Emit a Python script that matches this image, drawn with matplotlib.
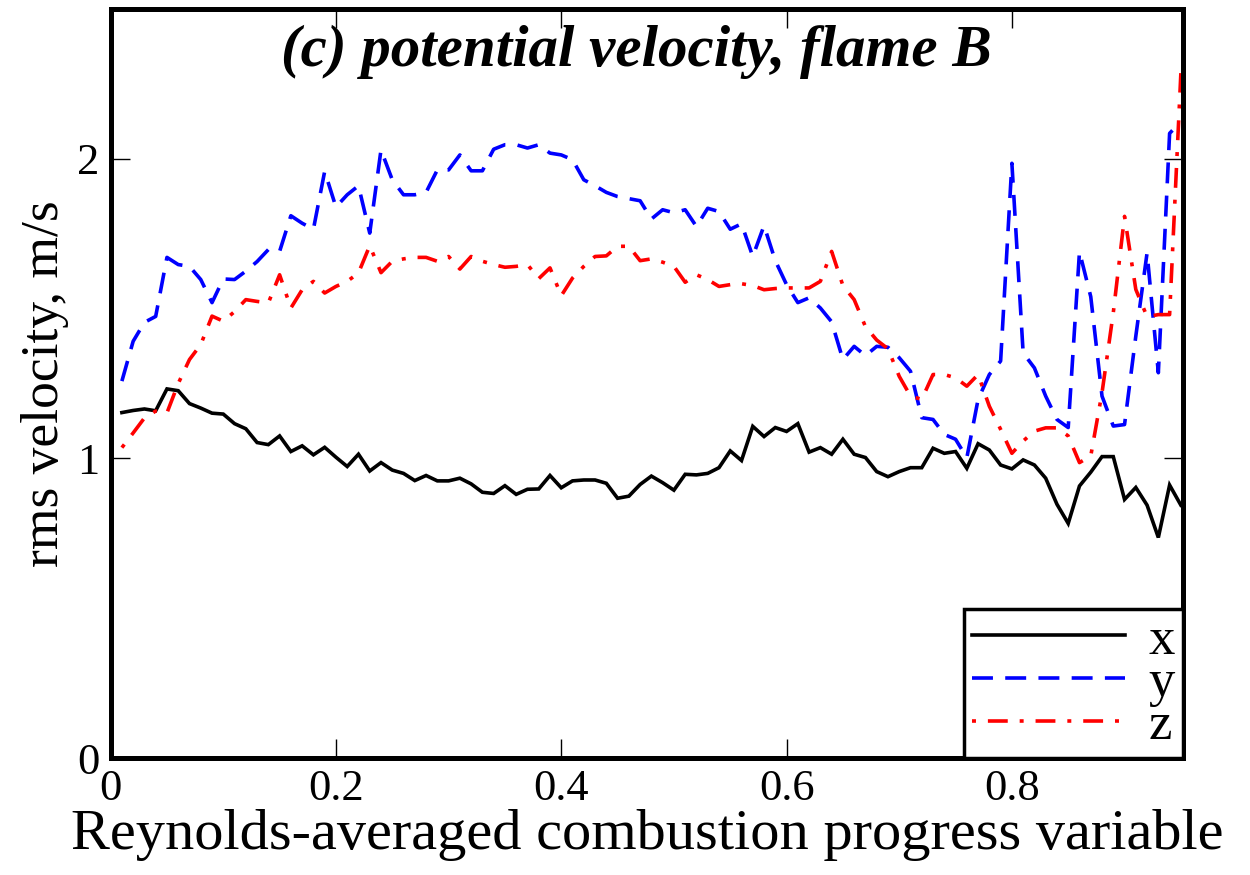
import numpy as np
import matplotlib
matplotlib.use("Agg")
import matplotlib.pyplot as plt

# progress variable grid (0.01 .. 0.95)
c_bins = [round(0.01 * k, 2) for k in range(1, 96)]

rms_x = [1.153, 1.160, 1.165, 1.159, 1.232, 1.226, 1.183, 1.168, 1.151, 1.148,
         1.116, 1.099, 1.053, 1.046, 1.075, 1.023, 1.042, 1.012, 1.037, 1.004,
         0.973, 1.014, 0.958, 0.986, 0.961, 0.950, 0.926, 0.943, 0.925, 0.925,
         0.934, 0.915, 0.887, 0.883, 0.909, 0.880, 0.897, 0.898, 0.943, 0.902,
         0.925, 0.928, 0.928, 0.917, 0.867, 0.874, 0.913, 0.941, 0.919, 0.894,
         0.947, 0.945, 0.950, 0.969, 1.025, 0.993, 1.107, 1.073, 1.103, 1.090,
         1.116, 1.021, 1.036, 1.014, 1.064, 1.014, 1.003, 0.956, 0.939, 0.956,
         0.969, 0.969, 1.034, 1.017, 1.023, 0.967, 1.049, 1.028, 0.978, 0.965,
         0.995, 0.978, 0.934, 0.847, 0.783, 0.908, 0.954, 1.006, 1.006, 0.863,
         0.903, 0.844, 0.736, 0.911, 0.844]

rms_y = [1.258, 1.391, 1.454, 1.474, 1.671, 1.647, 1.641, 1.597, 1.520, 1.599,
         1.597, 1.625, 1.657, 1.697, 1.691, 1.810, 1.785, 1.765, 1.958, 1.839,
         1.880, 1.910, 1.752, 2.030, 1.930, 1.880, 1.880, 1.888, 1.963, 1.963,
         2.013, 1.960, 1.960, 2.032, 2.047, 2.047, 2.036, 2.047, 2.019, 2.013,
         1.997, 1.930, 1.910, 1.888, 1.874, 1.867, 1.860, 1.799, 1.830, 1.820,
         1.830, 1.774, 1.835, 1.824, 1.765, 1.783, 1.674, 1.777, 1.660, 1.580,
         1.520, 1.536, 1.502, 1.456, 1.330, 1.374, 1.343, 1.374, 1.371, 1.336,
         1.291, 1.136, 1.130, 1.080, 1.064, 1.002, 1.197, 1.280, 1.325, 1.985,
         1.352, 1.302, 1.208, 1.130, 1.103, 1.690, 1.540, 1.208, 1.108, 1.113,
         1.408, 1.686, 1.286, 2.085, 2.124]

rms_z = [1.036, 1.085, 1.135, 1.158, 1.152, 1.250, 1.330, 1.380, 1.475, 1.458,
         1.490, 1.530, 1.524, 1.519, 1.613, 1.502, 1.563, 1.591, 1.552, 1.574,
         1.591, 1.619, 1.710, 1.620, 1.658, 1.666, 1.671, 1.671, 1.658, 1.674,
         1.632, 1.674, 1.658, 1.647, 1.638, 1.641, 1.647, 1.600, 1.636, 1.543,
         1.602, 1.641, 1.674, 1.676, 1.708, 1.708, 1.660, 1.666, 1.655, 1.641,
         1.588, 1.613, 1.597, 1.574, 1.580, 1.583, 1.577, 1.563, 1.567, 1.569,
         1.569, 1.569, 1.591, 1.691, 1.577, 1.530, 1.440, 1.395, 1.366, 1.274,
         1.208, 1.197, 1.280, 1.280, 1.269, 1.241, 1.280, 1.174, 1.097, 1.017,
         1.058, 1.091, 1.102, 1.102, 1.075, 0.986, 1.008, 1.219, 1.486, 1.808,
         1.564, 1.473, 1.480, 1.480, 2.286]

series_labels = ["x", "y", "z"]
x_ticks = [0, 0.2, 0.4, 0.6, 0.8]
x_ticklabels = ["0", "0.2", "0.4", "0.6", "0.8"]
y_ticks = [0, 1, 2]
y_ticklabels = ["0", "1", "2"]

plt.rcParams['font.family'] = ['Liberation Serif', 'DejaVu Serif']

fig = plt.figure(figsize=(12.5, 8.75), dpi=100)
ax = fig.add_axes([0.0885, 0.1337, 0.858, 0.856])

lw = 2.6
ax.plot(c_bins, rms_x, color='black', lw=2.6, solid_joinstyle='miter', label=series_labels[0])
ax.plot(c_bins, rms_y, color='#0000ff', lw=lw, linestyle=(0, (5.8, 3.4)), label=series_labels[1])
ax.plot(c_bins, rms_z, color='#ff0000', lw=lw, linestyle=(0, (1.1, 3.3, 5.5, 3.3)), label=series_labels[2])

ax.set_xlim(0, 0.952)
ax.set_ylim(0, 2.5)
ax.set_xticks(x_ticks)
ax.set_xticklabels(x_ticklabels)
ax.set_yticks(y_ticks)
ax.set_yticklabels(y_ticklabels)
ax.tick_params(direction='in', length=14, width=1.0, labelsize=32, pad=8,
               top=True, right=True)
for s in ax.spines.values():
    s.set_linewidth(3.6)

ax.set_xlabel("Reynolds-averaged combustion progress variable", fontsize=42, labelpad=0)
ax.set_ylabel("rms velocity, m/s", fontsize=38.5, labelpad=6)

ax.text(0.49, 0.943, "(c) potential velocity, flame B", transform=ax.transAxes,
        ha='center', va='center', fontsize=42.5, fontweight='bold', fontstyle='italic')

leg = ax.legend(loc='lower right', fontsize=38, frameon=True, fancybox=False,
                edgecolor='black', framealpha=1.0, borderaxespad=0.0, handlelength=2.9,
                handletextpad=0.45, labelspacing=-0.1, borderpad=0.15)
leg.get_frame().set_linewidth(2.5)

fig.savefig("out.png", dpi=100)
